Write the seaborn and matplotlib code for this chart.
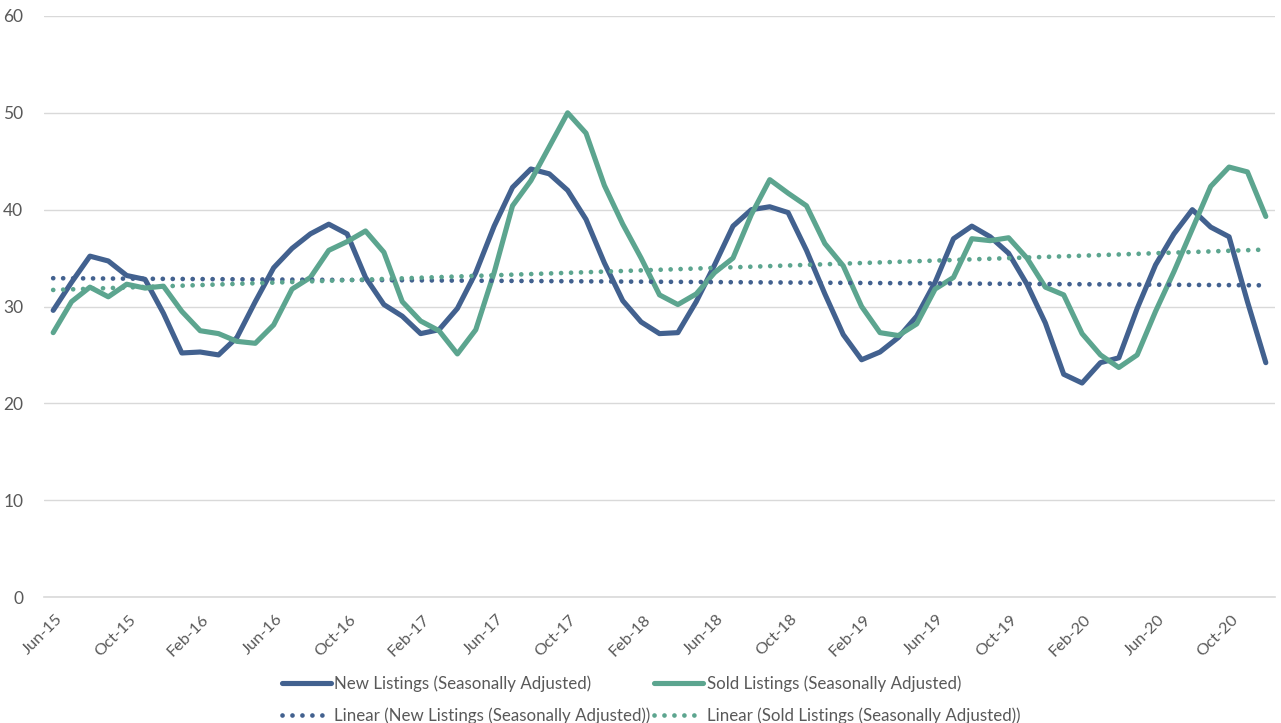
import numpy as np
import pandas as pd
import seaborn as sns
import matplotlib.pyplot as plt
import matplotlib.transforms as mtransforms

# monthly values, Jun-15 .. Dec-20
new_listings = [29.6, 32.5, 35.2, 34.7, 33.2, 32.8, 29.3, 25.2, 25.3, 25.0,
                26.8, 30.5, 34.0, 36.0, 37.5, 38.5, 37.5, 33.0, 30.2, 29.0,
                27.2, 27.6, 29.8, 33.5, 38.3, 42.3, 44.2, 43.7, 42.0, 39.0,
                34.5, 30.6, 28.4, 27.2, 27.3, 30.5, 34.3, 38.3, 40.0, 40.3,
                39.7, 35.8, 31.3, 27.1, 24.5, 25.3, 26.8, 29.0, 32.5, 37.0,
                38.3, 37.2, 35.5, 32.3, 28.3, 23.0, 22.1, 24.2, 24.7, 29.8,
                34.3, 37.5, 40.0, 38.2, 37.2, 30.5, 24.2]
sold_listings = [27.3, 30.5, 32.0, 31.0, 32.3, 31.9, 32.1, 29.5, 27.5, 27.2,
                 26.4, 26.2, 28.1, 31.8, 33.0, 35.8, 36.7, 37.8, 35.6, 30.5,
                 28.5, 27.5, 25.1, 27.6, 33.5, 40.4, 43.0, 46.5, 50.0, 47.9,
                 42.5, 38.5, 35.0, 31.2, 30.2, 31.3, 33.5, 35.0, 39.5, 43.1,
                 41.7, 40.4, 36.5, 34.2, 30.0, 27.3, 27.0, 28.2, 31.8, 33.0,
                 37.0, 36.8, 37.1, 35.0, 32.0, 31.2, 27.2, 25.0, 23.7, 25.0,
                 29.5, 33.6, 38.0, 42.4, 44.4, 43.9, 39.3]
tick_labels = ["Jun-15", "Oct-15", "Feb-16", "Jun-16", "Oct-16", "Feb-17",
               "Jun-17", "Oct-17", "Feb-18", "Jun-18", "Oct-18", "Feb-19",
               "Jun-19", "Oct-19", "Feb-20", "Jun-20", "Oct-20"]

blue = "#42618F"
green = "#5CA58F"

month = np.arange(len(new_listings))
df = pd.DataFrame({"month": month, "new": new_listings, "sold": sold_listings})
# Excel style linear trendlines
df["new_trend"] = np.polyval(np.polyfit(month, df["new"], 1), month)
df["sold_trend"] = np.polyval(np.polyfit(month, df["sold"], 1), month)

sns.set_style("white")
plt.rcParams["font.family"] = ["Lato", "DejaVu Sans"]

fig = plt.figure(figsize=(12.81, 7.23), dpi=100)
ax = fig.add_axes([44 / 1281, 1 - 597 / 723, (1275 - 44) / 1281, (597 - 16) / 723])

sns.lineplot(data=df, x="month", y="new", color=blue, lw=3.7, ax=ax,
             label="New Listings (Seasonally Adjusted)")
sns.lineplot(data=df, x="month", y="sold", color=green, lw=3.7, ax=ax,
             label="Sold Listings (Seasonally Adjusted)")
dots = (0, (0.01, 2.1))
sns.lineplot(data=df, x="month", y="new_trend", color=blue, lw=3.4, ax=ax,
             linestyle=dots, dash_capstyle="round",
             label="Linear (New Listings (Seasonally Adjusted))")
sns.lineplot(data=df, x="month", y="sold_trend", color=green, lw=3.4, ax=ax,
             linestyle=dots, dash_capstyle="round",
             label="Linear (Sold Listings (Seasonally Adjusted))")

ax.set_xlim(-0.5, len(month) - 0.5)
ax.set_ylim(0, 60)
ax.set_yticks(range(0, 61, 10))
ax.yaxis.grid(True, color="#D9D9D9", lw=1)
ax.set_axisbelow(True)
ax.set_xlabel("")
ax.set_ylabel("")
for s in ["top", "right", "left"]:
    ax.spines[s].set_visible(False)
ax.spines["bottom"].set_color("#D9D9D9")
ax.spines["bottom"].set_linewidth(1.2)

ax.set_xticks(np.arange(len(tick_labels)) * 4 - 0.5)
ax.set_xticklabels(tick_labels, rotation=45, ha="right", rotation_mode="anchor")
ax.tick_params(axis="x", length=5, color="#D9D9D9", width=1, labelsize=11.8,
               labelcolor="#595959", pad=6)
ax.tick_params(axis="y", length=0, labelsize=12.5, labelcolor="#595959", pad=15)
shift = mtransforms.ScaledTranslation(11 / 100, 0, fig.dpi_scale_trans)
for lab in ax.get_xticklabels():
    lab.set_transform(lab.get_transform() + shift)

handles, labels = ax.get_legend_handles_labels()
order = [0, 2, 1, 3]
ax.legend([handles[i] for i in order], [labels[i] for i in order],
          loc="upper center", bbox_to_anchor=(651 / 1281, 1 - 667 / 723),
          bbox_transform=fig.transFigure, ncol=2, frameon=False,
          fontsize=12.2, labelcolor="#595959", handlelength=2.9,
          handletextpad=0.2, columnspacing=0.2, labelspacing=0.9,
          borderpad=0)

fig.savefig("out.png", dpi=100)
